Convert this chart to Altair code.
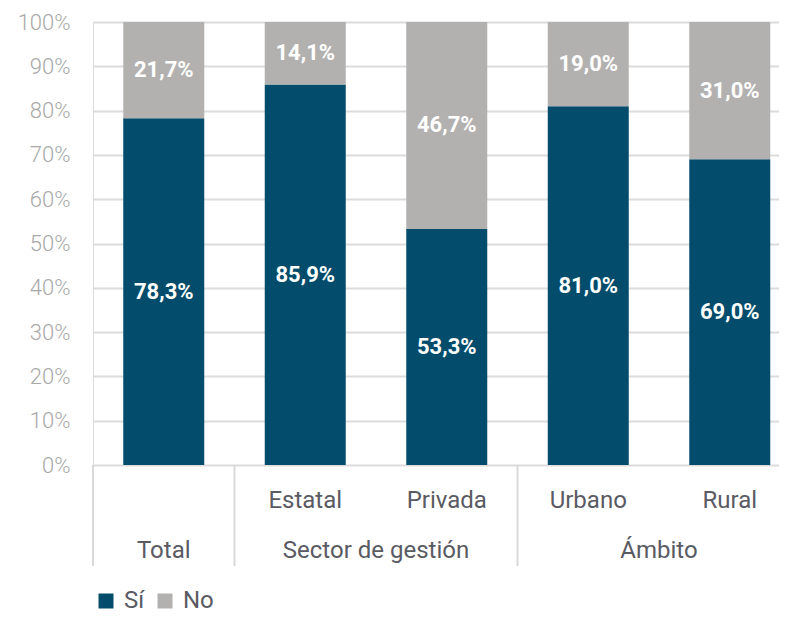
import altair as alt
import pandas as pd

groups = ["Total", "Estatal", "Privada", "Urbano", "Rural"]
si = [78.3, 85.9, 53.3, 81.0, 69.0]
no = [21.7, 14.1, 46.7, 19.0, 31.0]
sub_names = ["Estatal", "Privada", "Urbano", "Rural"]
sub_pos = [1, 2, 3, 4]
parent_names = ["Total", "Sector de gestión", "Ámbito"]
parent_pos = [0, 1.5, 3.5]
sep_pos = [-0.5, 0.5, 2.5]

BLUE = "#034c6b"
GRAY = "#b3b1b0"
TXT = "#5a5a63"


def fmt(v):
    return f"{v:.1f}".replace(".", ",") + "%"


rows = []
for i, (g, s, n) in enumerate(zip(groups, si, no)):
    rows.append(dict(pos=i, grupo=g, resp="Sí", y0=0.0, y1=s / 100, label=fmt(s)))
    rows.append(dict(pos=i, grupo=g, resp="No", y0=s / 100, y1=(s + n) / 100, label=fmt(n)))
df = pd.DataFrame(rows)
df["mid"] = (df["y0"] + df["y1"]) / 2

df_sub = pd.DataFrame({"pos": sub_pos, "name": sub_names})
df_par = pd.DataFrame({"pos": parent_pos, "name": parent_names})
df_sep = pd.DataFrame({"pos": sep_pos})

W, H = 686, 443
x = alt.X(
    "pos:Q",
    scale=alt.Scale(domain=[-0.5, 4.348], nice=False, zero=False, padding=0),
    axis=None,
)

bars = alt.Chart(df).mark_bar(width=81).encode(
    x=x,
    y=alt.Y(
        "y0:Q",
        scale=alt.Scale(domain=[0, 1], nice=False),
        axis=alt.Axis(
            format="%",
            values=[i / 10 for i in range(11)],
            title=None,
            ticks=False,
            domain=False,
            labelFont="Roboto",
            labelFontWeight=300,
            labelFontSize=22,
            labelColor="#a8a8a8",
            labelPadding=23,
            grid=True,
            gridColor="#dcdcdc",
            gridWidth=2,
        ),
    ),
    y2="y1:Q",
    color=alt.Color(
        "resp:N",
        scale=alt.Scale(domain=["Sí", "No"], range=[BLUE, GRAY]),
        legend=alt.Legend(
            title=None,
            orient="none",
            legendX=1,
            legendY=567,
            direction="horizontal",
            symbolType="square",
            symbolSize=225,
            symbolStrokeWidth=0,
            symbolOpacity=1,
            labelFont="Roboto",
            labelFontSize=24,
            labelColor=TXT,
            labelOffset=6,
            columnPadding=8,
            padding=0,
        ),
    ),
)

labels = alt.Chart(df).mark_text(
    color="white", font="Roboto", fontWeight="bold", fontSize=22
).encode(x=x, y=alt.Y("mid:Q"), text="label:N")

subs = alt.Chart(df_sub).mark_text(
    font="Roboto", fontSize=24, color=TXT, baseline="alphabetic"
).encode(x=x, y=alt.value(H + 43), text="name:N")

parents = alt.Chart(df_par).mark_text(
    font="Roboto", fontSize=24, color=TXT, baseline="alphabetic"
).encode(x=x, y=alt.value(H + 93), text="name:N")

seps = alt.Chart(df_sep).mark_rule(color="#d9d9d9", strokeWidth=2).encode(
    x=x, y=alt.value(H), y2=alt.value(H + 101)
)

chart = (
    alt.layer(bars, labels, seps, subs, parents)
    .properties(
        width=W,
        height=H,
        padding={"left": 85, "top": 14, "right": 0, "bottom": 149},
        autosize=alt.AutoSizeParams(type="none"),
    )
    .configure_view(stroke=None)
    .configure(background="white")
)

chart.save("out.html", embed_options={"renderer": "svg", "actions": False})
